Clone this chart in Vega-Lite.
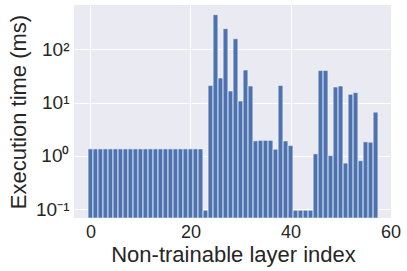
{
  "$schema": "https://vega.github.io/schema/vega-lite/v6.json",
  "autosize": "none",
  "width": 318,
  "height": 213,
  "padding": {"left": 74, "top": 5, "right": 15, "bottom": 53},
  "background": "white",
  "config": {
    "view": {"fill": "#EAEAF2", "stroke": null},
    "font": "Liberation Sans",
    "axis": {
      "domain": false,
      "ticks": false,
      "gridColor": "white",
      "gridWidth": 1,
      "labelFont": "Liberation Sans",
      "labelFontSize": 18,
      "labelColor": "#262626",
      "titleFont": "Liberation Sans",
      "titleFontSize": 22,
      "titleFontWeight": "normal",
      "titleColor": "#262626"
    }
  },
  "data": {
    "values": [
      {"layer": 0, "time": 1.35}, {"layer": 1, "time": 1.35}, {"layer": 2, "time": 1.35},
      {"layer": 3, "time": 1.35}, {"layer": 4, "time": 1.35}, {"layer": 5, "time": 1.35},
      {"layer": 6, "time": 1.35}, {"layer": 7, "time": 1.35}, {"layer": 8, "time": 1.35},
      {"layer": 9, "time": 1.35}, {"layer": 10, "time": 1.35}, {"layer": 11, "time": 1.35},
      {"layer": 12, "time": 1.35}, {"layer": 13, "time": 1.35}, {"layer": 14, "time": 1.35},
      {"layer": 15, "time": 1.35}, {"layer": 16, "time": 1.35}, {"layer": 17, "time": 1.35},
      {"layer": 18, "time": 1.35}, {"layer": 19, "time": 1.35}, {"layer": 20, "time": 1.35},
      {"layer": 21, "time": 1.35}, {"layer": 22, "time": 1.35}, {"layer": 23, "time": 0.095},
      {"layer": 24, "time": 21}, {"layer": 25, "time": 447}, {"layer": 26, "time": 29},
      {"layer": 27, "time": 244}, {"layer": 28, "time": 16.5}, {"layer": 29, "time": 158},
      {"layer": 30, "time": 10.7}, {"layer": 31, "time": 41}, {"layer": 32, "time": 20.5},
      {"layer": 33, "time": 1.91}, {"layer": 34, "time": 1.95}, {"layer": 35, "time": 1.95},
      {"layer": 36, "time": 1.95}, {"layer": 37, "time": 1.33}, {"layer": 38, "time": 21},
      {"layer": 39, "time": 1.9}, {"layer": 40, "time": 1.56}, {"layer": 41, "time": 0.095},
      {"layer": 42, "time": 0.095}, {"layer": 43, "time": 0.095}, {"layer": 44, "time": 0.095},
      {"layer": 45, "time": 1.09}, {"layer": 46, "time": 40}, {"layer": 47, "time": 40},
      {"layer": 48, "time": 1.01}, {"layer": 49, "time": 19.6}, {"layer": 50, "time": 20.5},
      {"layer": 51, "time": 0.73}, {"layer": 52, "time": 14.3}, {"layer": 53, "time": 15.4},
      {"layer": 54, "time": 0.81}, {"layer": 55, "time": 1.83}, {"layer": 56, "time": 1.8},
      {"layer": 57, "time": 6.6}
    ]
  },
  "mark": {"type": "bar", "color": "#4C72B0", "size": 4.7, "stroke": "white", "strokeWidth": 0.5},
  "encoding": {
    "x": {
      "field": "layer",
      "type": "quantitative",
      "scale": {"domain": [-3.29, 60.29], "nice": false, "zero": false, "padding": 0},
      "axis": {"values": [0, 20, 40, 60], "title": "Non-trainable layer index", "labelPadding": 5, "titlePadding": 3}
    },
    "y": {
      "field": "time",
      "type": "quantitative",
      "scale": {"type": "log", "domain": [0.068, 680], "nice": false},
      "axis": {
        "values": [0.1, 1, 10, 100],
        "labelExpr": "datum.value < 0.5 ? '10⁻¹' : datum.value < 5 ? '10⁰' : datum.value < 50 ? '10¹' : '10²'",
        "labelFontSize": 19,
        "title": "Execution time (ms)",
        "labelPadding": 5,
        "titlePadding": 5
      }
    },
    "y2": {"datum": 0.068}
  }
}
